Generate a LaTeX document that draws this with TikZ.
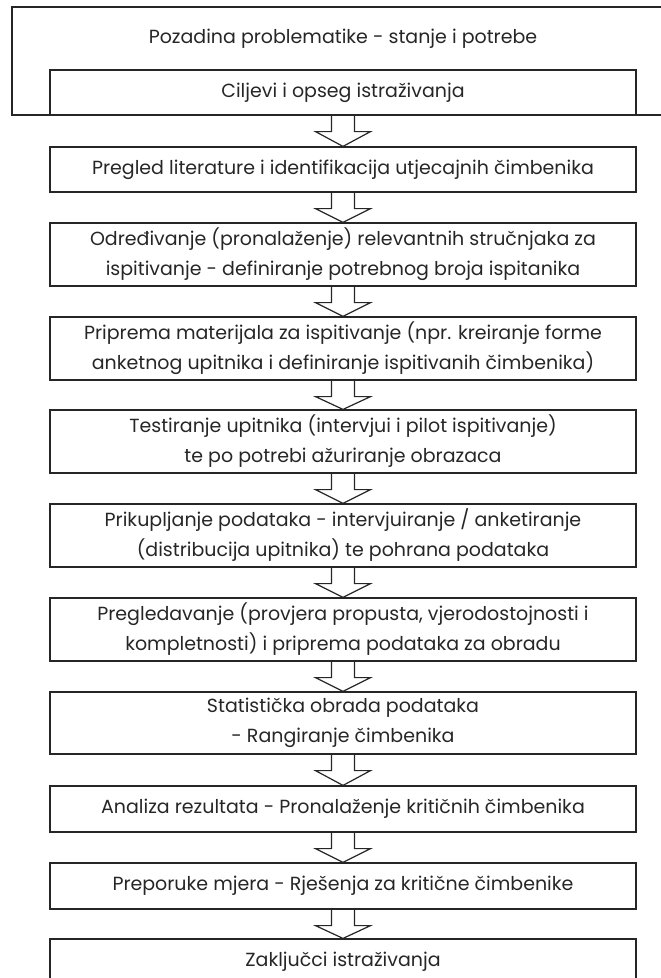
\documentclass[tikz,border=0pt]{standalone}
\usepackage{fontspec}
\setmainfont{Poppins}
\usetikzlibrary{calc}
\newcommand{\blokstrelica}[2]{%
  \draw[strelica] ($(#1.south)+(-11.5,0)$) -- ++(0,16) -- ++(-16,0) -- (#2.north)
    -- ($(#1.south)+(27.5,16)$) -- ++(-16,0) -- ++(0,-16);}
\begin{document}
\begin{tikzpicture}[x=1pt,y=-1pt,
    okvir/.style={draw=black!85, line width=1.2pt, minimum width=586pt, inner sep=0pt,
      align=center, font=\fontsize{19}{30}\selectfont, text=black!85},
    strelica/.style={draw=black!85, line width=1.2pt, line join=miter}]
    \useasboundingbox (0,0) rectangle (661,978);
    \clip (0,0) rectangle (661,978);
    \draw[black!85, line width=1.2pt] (12,7) rectangle (674,115);
    \node[align=center, font=\fontsize{19}{30}\selectfont, text=black!85] (pozadina) at (343,39) {Pozadina problematike - stanje i potrebe};
    \node[okvir, minimum height=45pt] (cilj) at (343,92.5) {Ciljevi i opseg istraživanja};
    \node[okvir, minimum height=45pt] (pregled) at (343,169.5) {Pregled literature i identifikacija utjecajnih čimbenika};
    \node[okvir, minimum height=63pt] (odred) at (343,254.5) {Određivanje (pronalaženje) relevantnih stručnjaka za\\ispitivanje - definiranje potrebnog broja ispitanika};
    \node[okvir, minimum height=63pt] (priprema) at (343,348.5) {Priprema materijala za ispitivanje (npr. kreiranje forme\\anketnog upitnika i definiranje ispitivanih čimbenika)};
    \node[okvir, minimum height=63pt] (test) at (343,441.5) {Testiranje upitnika (intervjui i pilot ispitivanje)\\te po potrebi ažuriranje obrazaca};
    \node[okvir, minimum height=63pt] (prik) at (343,535.5) {Prikupljanje podataka - intervjuiranje / anketiranje\\(distribucija upitnika) te pohrana podataka};
    \node[okvir, minimum height=63pt] (provjera) at (343,629.5) {Pregledavanje (provjera propusta, vjerodostojnosti i\\kompletnosti) i priprema podataka za obradu};
    \node[okvir, minimum height=62pt] (stat) at (343,723) {Statistička obrada podataka\\- Rangiranje čimbenika};
    \node[okvir, minimum height=46pt] (analiza) at (343,809) {Analiza rezultata - Pronalaženje kritičnih čimbenika};
    \node[okvir, minimum height=46pt] (mjere) at (343,886) {Preporuke mjera - Rješenja za kritične čimbenike};
    \node[okvir, minimum height=46pt] (zaklj) at (343,962) {Zaključci istraživanja};
    \foreach \a/\b in {cilj/pregled, pregled/odred, odred/priprema, priprema/test, test/prik,
      prik/provjera, provjera/stat, stat/analiza, analiza/mjere, mjere/zaklj}
      {\blokstrelica{\a}{\b}}
\end{tikzpicture}
\end{document}
